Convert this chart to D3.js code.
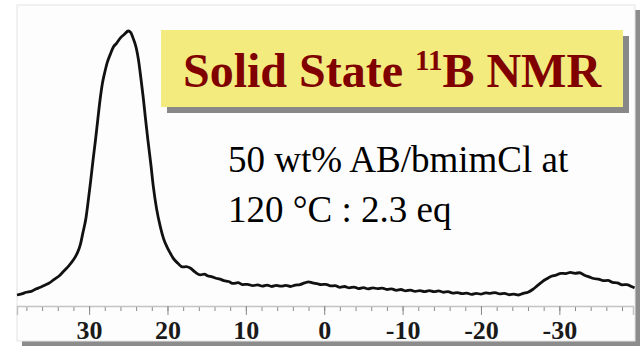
<!DOCTYPE html>
<html>
<head>
<meta charset="utf-8">
<script src="https://cdn.jsdelivr.net/npm/d3@7"></script>
<style>
  body { margin: 0; background: #fff; }
</style>
</head>
<body>
<div id="chart"></div>
<script>
// spectrum: chemical shift (ppm) and intensity (peak = 100)
const shift = [39.2, 38.6, 38.0, 37.4, 36.8, 36.2, 35.6, 35.0, 34.4, 33.8, 33.2, 32.6, 32.0, 31.5, 31.1, 30.8, 30.4, 30.1, 29.8, 29.5,
  29.2, 28.9, 28.6, 28.3, 28.0, 27.7, 27.3, 26.9, 26.5, 26.0, 25.5, 25.0, 24.7, 24.4, 24.0, 23.7, 23.4, 23.1, 22.8, 22.5,
  22.1, 21.8, 21.4, 20.9, 20.5, 20.0, 19.6, 19.3, 18.7, 18.1, 17.6, 17.1, 16.5, 15.8, 15.3, 14.9, 14.3, 13.8, 13.3, 12.8,
  12.2, 11.6, 11.0, 10.4, 9.8, 9.1, 8.5, 7.9, 7.3, 6.7, 6.1, 5.5, 4.9, 4.3, 3.7, 3.1, 2.5, 2.0, 1.5, 0.9,
  0.4, -0.2, -0.8, -1.4, -2.0, -2.6, -3.2, -3.8, -4.4, -5.0, -5.6, -6.2, -6.8, -7.4, -8.0, -8.6, -9.2, -9.8, -10.4, -11.0,
  -11.6, -12.2, -12.8, -13.4, -14.0, -14.6, -15.2, -15.8, -16.4, -17.0, -17.6, -18.2, -18.8, -19.4, -20.0, -20.6, -21.2, -21.8, -22.4, -23.0,
  -23.6, -24.2, -24.8, -25.4, -26.0, -26.6, -27.2, -27.8, -28.4, -29.0, -29.6, -30.2, -30.8, -31.4, -32.0, -32.6, -33.2, -33.8, -34.4, -35.0,
  -35.6, -36.2, -36.8, -37.4, -38.0, -38.6, -39.2, -39.6];
const intensity = [4.0, 4.4, 5.0, 5.3, 6.2, 6.8, 7.6, 8.5, 9.8, 11.0, 12.8, 14.6, 16.8, 19.3, 22.5, 26.5, 32, 38.5, 45.5, 53,
  60, 67.6, 75, 81, 85, 88.4, 91.5, 94.2, 95.5, 97.5, 98.8, 100, 99.5, 97.5, 94, 89.5, 83, 76, 68, 60.4,
  51, 43.3, 35.5, 28.7, 24.5, 21.1, 19, 17.5, 15.6, 14.2, 14.3, 13.8, 12.4, 11.3, 11.6, 11.0, 10.6, 10.1, 9.8, 9.2,
  8.9, 8.2, 8.5, 7.8, 7.9, 7.4, 7.7, 7.2, 7.6, 7.1, 7.5, 7.2, 7.5, 7.1, 7.6, 7.8, 8.4, 8.8, 8.4, 8.1,
  7.8, 7.9, 7.3, 7.4, 6.8, 7.1, 6.6, 6.9, 6.3, 6.7, 6.2, 6.6, 6.3, 6.5, 6.0, 6.2, 5.7, 6.0, 5.5, 5.8,
  5.3, 5.6, 5.2, 5.6, 5.2, 5.5, 5.0, 5.2, 4.7, 4.9, 4.5, 4.7, 4.2, 4.6, 4.3, 4.8, 4.6, 4.9, 4.4, 4.6,
  4.1, 4.3, 4.0, 4.6, 5.0, 6.0, 7.4, 8.8, 9.9, 10.8, 11.2, 11.9, 11.8, 12.2, 11.9, 12.1, 11.2, 10.6, 10.0, 9.8,
  9.2, 9.3, 8.6, 8.4, 7.7, 7.8, 7.1, 6.6];

const majorTicks = [30, 20, 10, 0, -10, -20, -30];
const minorTicks = d3.range(38, -40, -2);

const titleMain = "Solid State ";
const titleSup = "11";
const titleEnd = "B NMR";
const noteLines = ["50 wt% AB/bmimCl at", "120 \u00B0C : 2.3 eq"];

const data = shift.map((s, i) => ({ppm: s, val: intensity[i]}));

const W = 643, H = 353;
const svg = d3.select("#chart").append("svg")
    .attr("width", W)
    .attr("height", H);

// plot frame with drop shadow
svg.append("rect")
    .attr("x", 22).attr("y", 10)
    .attr("width", 618).attr("height", 336)
    .attr("fill", "#8c8c8c");
svg.append("rect")
    .attr("x", 17).attr("y", 5)
    .attr("width", 618).attr("height", 336)
    .attr("fill", "#fdfdfd")
    .attr("stroke", "#e4e4e4")
    .attr("stroke-width", 1);

// scales
var x = d3.scaleLinear()
    .domain([39.2, -39.4])
    .range([17, 633]);
var y = d3.scaleLinear()
    .domain([0, 100])
    .range([306, 31]);

// minor ticks
svg.append("g")
    .attr("transform", "translate(0,306)")
    .call(d3.axisBottom(x).tickValues(minorTicks).tickSize(5).tickFormat(""))
    .call(g => g.select(".domain").remove())
    .call(g => g.selectAll(".tick line").attr("stroke", "#8a8a8a"));

// major ticks + labels
var xAxis = svg.append("g")
    .attr("transform", "translate(0,306)")
    .call(d3.axisBottom(x).tickValues(majorTicks).tickSize(9).tickPadding(6)
      .tickFormat(d => String(d)));
xAxis.select(".domain").attr("stroke", "#c4c4c4").attr("stroke-width", 1.5);
xAxis.selectAll(".tick line").attr("stroke", "#8a8a8a");
xAxis.selectAll(".tick text")
    .attr("fill", "#1a1a1a")
    .style("font-family", "'Liberation Serif', 'Times New Roman', serif")
    .style("font-weight", "bold")
    .style("font-size", "26px");

// spectrum
var line = d3.line()
    .curve(d3.curveMonotoneX)
    .x(d => x(d.ppm))
    .y(d => y(d.val));

svg.append("path")
    .datum(data)
    .attr("fill", "none")
    .attr("stroke", "#111")
    .attr("stroke-width", 2.8)
    .attr("stroke-linejoin", "round")
    .attr("d", line);

// title box
svg.append("rect")
    .attr("x", 167).attr("y", 36)
    .attr("width", 462).attr("height", 77)
    .attr("fill", "#888");
svg.append("rect")
    .attr("x", 161).attr("y", 30)
    .attr("width", 462).attr("height", 77)
    .attr("fill", "#f3eb7e");

var title = svg.append("text")
    .attr("x", 392).attr("y", 87)
    .attr("text-anchor", "middle")
    .attr("fill", "#800000")
    .style("font-family", "'Liberation Serif', 'Times New Roman', serif")
    .style("font-weight", "bold")
    .style("font-size", "48px");
title.append("tspan").text(titleMain);
title.append("tspan").attr("dy", -17).style("font-size", "29px").text(titleSup);
title.append("tspan").attr("dy", 17).text(titleEnd);

// note
svg.selectAll("text.note")
    .data(noteLines)
    .enter()
    .append("text")
      .attr("class", "note")
      .attr("x", 228)
      .attr("y", (d, i) => 172 + i * 50)
      .attr("fill", "#000")
      .style("font-family", "'Liberation Serif', 'Times New Roman', serif")
      .style("font-size", "37px")
      .text(d => d);
</script>
</body>
</html>
